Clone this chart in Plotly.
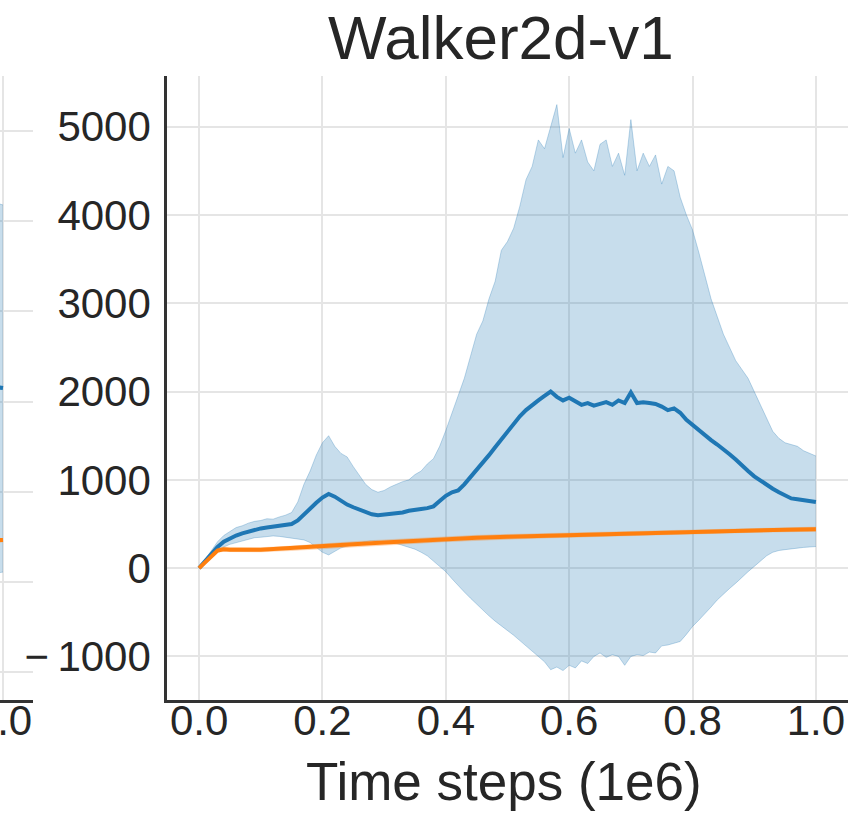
import plotly.graph_objects as go

# ---------------- data ----------------
X = [0.00, 0.01, 0.02, 0.03, 0.04, 0.05, 0.06, 0.07, 0.08, 0.09,
     0.10, 0.11, 0.12, 0.13, 0.14, 0.15, 0.16, 0.17, 0.18, 0.19,
     0.20, 0.21, 0.22, 0.23, 0.24, 0.25, 0.26, 0.27, 0.28, 0.29,
     0.30, 0.31, 0.32, 0.33, 0.34, 0.35, 0.36, 0.37, 0.38, 0.39,
     0.40, 0.41, 0.42, 0.43, 0.44, 0.45, 0.46, 0.47, 0.48, 0.49,
     0.50, 0.51, 0.52, 0.53, 0.54, 0.55, 0.56, 0.57, 0.58, 0.59,
     0.60, 0.61, 0.62, 0.63, 0.64, 0.65, 0.66, 0.67, 0.68, 0.69,
     0.70, 0.71, 0.72, 0.73, 0.74, 0.75, 0.76, 0.77, 0.78, 0.79,
     0.80, 0.81, 0.82, 0.83, 0.84, 0.85, 0.86, 0.87, 0.88, 0.89,
     0.90, 0.91, 0.92, 0.93, 0.94, 0.95, 0.96, 0.97, 0.98, 0.99,
     1.00]

blue_mean = [0, 80, 160, 240, 300, 340, 370, 395, 415, 435,
             450, 460, 470, 480, 490, 500, 540, 610, 680, 740,
             800, 840, 810, 760, 720, 690, 660, 630, 610, 600,
             605, 610, 620, 630, 650, 665, 670, 680, 700, 760,
             820, 860, 880, 950, 1030, 1110, 1190, 1280, 1370, 1460,
             1540, 1630, 1720, 1790, 1850, 1900, 1950, 2000, 1940, 1900,
             1930, 1890, 1850, 1870, 1840, 1860, 1880, 1850, 1900, 1870,
             1990, 1870, 1880, 1870, 1860, 1830, 1790, 1810, 1760, 1680,
             1620, 1560, 1500, 1450, 1400, 1350, 1290, 1230, 1160, 1100,
             1040, 990, 940, 900, 860, 820, 790, 780, 770, 760,
             750]

blue_upper = [0, 100, 200, 300, 370, 420, 460, 480, 510, 530,
              540, 560, 555, 580, 600, 630, 750, 950, 1100, 1280,
              1420, 1500, 1380, 1300, 1260, 1150, 1050, 950, 890, 860,
              880, 920, 950, 980, 1000, 1060, 1100, 1180, 1240, 1380,
              1560, 1750, 1950, 2150, 2400, 2650, 2800, 3050, 3250, 3600,
              3700, 3850, 4100, 4400, 4550, 4850, 4750, 5000, 5250, 4650,
              4980, 4700, 4850, 4600, 4500, 4800, 4850, 4550, 4700, 4450,
              5080, 4500, 4700, 4550, 4680, 4350, 4550, 4500, 4200, 4000,
              3830, 3580, 3300, 3050, 2850, 2650, 2500, 2350, 2250, 2150,
              2000, 1850, 1700, 1550, 1470, 1420, 1400, 1380, 1330, 1300,
              1270]

blue_lower = [0, 60, 120, 190, 240, 270, 290, 310, 330, 345,
              350, 360, 365, 360, 350, 340, 330, 320, 290, 230,
              180, 150, 190, 230, 250, 270, 285, 300, 310, 305,
              300, 290, 280, 260, 240, 215, 180, 140, 80, 20,
              -40, -120, -200, -270, -340, -410, -480, -540, -600, -650,
              -700, -760, -820, -880, -950, -1000, -1060, -1150, -1120, -1160,
              -1100, -1130, -1050, -1080, -1000, -960, -1010, -980, -1000, -1100,
              -1000, -980, -990, -950, -960, -880, -870, -850, -830, -750,
              -660, -590, -520, -440, -360, -290, -230, -170, -100, -40,
              20, 80, 140, 180, 200, 210, 220, 230, 235, 240,
              245]

X_orange = [0.00, 0.01, 0.02, 0.03, 0.04, 0.05, 0.10, 0.15, 0.20, 0.25,
            0.30, 0.35, 0.40, 0.45, 0.50, 0.55, 0.60, 0.65, 0.70, 0.75,
            0.80, 0.85, 0.90, 0.95, 1.00]
orange_mean = [0, 70, 140, 200, 215, 210, 208, 225, 250, 270,
               290, 310, 330, 345, 355, 365, 375, 385, 395, 400,
               410, 420, 428, 435, 440]
orange_upper = [0, 85, 160, 225, 240, 235, 232, 250, 278, 300,
                320, 340, 360, 372, 382, 392, 400, 408, 418, 424,
                432, 442, 450, 458, 465]
orange_lower = [0, 55, 120, 178, 192, 188, 185, 200, 222, 240,
                260, 280, 300, 318, 328, 340, 350, 362, 372, 378,
                388, 398, 406, 412, 418]

# neighbouring (cut-off) panel on the left: only its right end is visible
X_left = [0.98, 0.99, 1.00]
left_blue_mean = [1070, 1080, 1075]
left_blue_upper = [2080, 2100, 2090]
left_blue_lower = [60, 50, 55]
left_orange_mean = [230, 232, 233]

x_tickvals = [0.0, 0.2, 0.4, 0.6, 0.8, 1.0]
x_ticktext = ["0.0", "0.2", "0.4", "0.6", "0.8", "1.0"]
y_tickvals = [-1000, 0, 1000, 2000, 3000, 4000, 5000]
y_ticktext = ["\u2212\u20091000", "0", "1000", "2000", "3000", "4000", "5000"]
left_y_gridvals = [-500, 0, 500, 1000, 1500, 2000, 2500]

title_text = "Walker2d-v1"
xlabel_text = "Time steps (1e6)"

# ---------------- style ----------------
BLUE = "#1f77b4"
ORANGE = "#ff7f0e"
BAND_BLUE = "rgba(31,119,180,0.25)"
EDGE_BLUE = "rgba(31,119,180,0.28)"
BAND_OR = "rgba(255,127,14,0.25)"
TXT = "#262626"
GRID = "#e5e5e5"
AX = "#333333"
FONT = "Liberation Sans, Arial, sans-serif"

fig = go.Figure()


def add_band(xs, lo, hi, fill, edge, xa, ya):
    fig.add_trace(go.Scatter(x=xs, y=lo, mode="lines", line=dict(color=edge, width=1),
                             xaxis=xa, yaxis=ya, showlegend=False, hoverinfo="skip"))
    fig.add_trace(go.Scatter(x=xs, y=hi, mode="lines", line=dict(color=edge, width=1),
                             fill="tonexty", fillcolor=fill,
                             xaxis=xa, yaxis=ya, showlegend=False, hoverinfo="skip"))


# left (cut-off) panel
add_band(X_left, left_blue_lower, left_blue_upper, BAND_BLUE, EDGE_BLUE, "x", "y")
fig.add_trace(go.Scatter(x=X_left, y=left_blue_mean, mode="lines", line=dict(color=BLUE, width=4),
                         xaxis="x", yaxis="y", showlegend=False))
fig.add_trace(go.Scatter(x=X_left, y=left_orange_mean, mode="lines", line=dict(color=ORANGE, width=4),
                         xaxis="x", yaxis="y", showlegend=False))

# main panel
add_band(X, blue_lower, blue_upper, BAND_BLUE, EDGE_BLUE, "x2", "y2")
fig.add_trace(go.Scatter(x=X, y=blue_mean, mode="lines", line=dict(color=BLUE, width=4),
                         xaxis="x2", yaxis="y2", showlegend=False))
add_band(X_orange, orange_lower, orange_upper, BAND_OR, "rgba(255,127,14,0.2)", "x2", "y2")
fig.add_trace(go.Scatter(x=X_orange, y=orange_mean, mode="lines", line=dict(color=ORANGE, width=4),
                         xaxis="x2", yaxis="y2", showlegend=False))

W, H = 851, 813
left_end = 33 / W
main_x0, main_x1 = 167 / W, 848 / W
y0, y1 = 1 - 700 / H, 1 - 76 / H

fig.update_layout(
    width=W, height=H,
    margin=dict(l=0, r=0, t=0, b=0, autoexpand=False),
    paper_bgcolor="white", plot_bgcolor="white",
    font=dict(family=FONT, color=TXT, size=42),
    xaxis=dict(domain=[0, left_end], range=[0.995, 1.05], automargin=False,
               tickvals=x_tickvals, ticktext=x_ticktext,
               showgrid=True, gridcolor=GRID, gridwidth=1.5,
               showline=True, linecolor=AX, linewidth=2.5,
               zeroline=False, ticks="", ticklabelstandoff=-18,
               ticklabeloverflow="allow",
               tickfont=dict(size=42, color=TXT, family=FONT)),
    yaxis=dict(domain=[y0, y1], range=[-654, 2805], automargin=False,
               tickvals=left_y_gridvals, showticklabels=False,
               showgrid=True, gridcolor=GRID, gridwidth=1.5,
               showline=False, zeroline=False, ticks=""),
    xaxis2=dict(domain=[main_x0, main_x1], range=[-0.052, 1.052], anchor="y2",
                automargin=False,
                tickvals=x_tickvals, ticktext=x_ticktext,
                showgrid=True, gridcolor=GRID, gridwidth=1.5,
                showline=True, linecolor=AX, linewidth=2.5,
                zeroline=False, ticks="", ticklabelstandoff=-18,
                tickfont=dict(size=42, color=TXT, family=FONT)),
    yaxis2=dict(domain=[y0, y1], range=[-1493, 5574], anchor="x2",
                automargin=False,
                tickvals=y_tickvals, ticktext=y_ticktext,
                showgrid=True, gridcolor=GRID, gridwidth=1.5,
                showline=True, linecolor=AX, linewidth=2.5,
                zeroline=False, ticks="", ticklabelstandoff=5,
                tickfont=dict(size=42, color=TXT, family=FONT)),
    annotations=[
        dict(text=title_text, xref="paper", yref="paper",
             x=501 / W, y=1 - 37.5 / H,
             xanchor="center", yanchor="middle", showarrow=False,
             font=dict(size=62, color=TXT, family=FONT)),
        dict(text=xlabel_text, xref="paper", yref="paper",
             x=504 / W, y=1 - 781 / H,
             xanchor="center", yanchor="middle", showarrow=False,
             font=dict(size=53, color=TXT, family=FONT)),
    ],
)

fig.write_html("out.html")
